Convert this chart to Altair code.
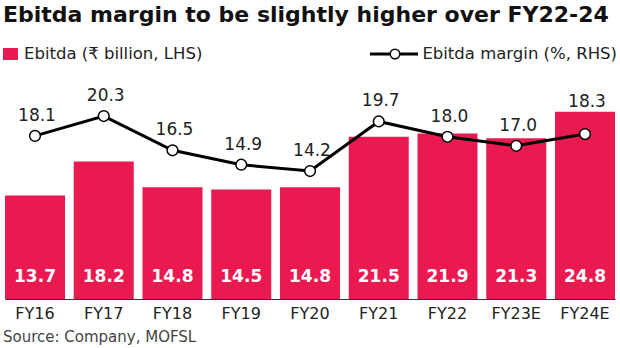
import altair as alt
import pandas as pd

categories = ["FY16", "FY17", "FY18", "FY19", "FY20", "FY21", "FY22", "FY23E", "FY24E"]
ebitda = [13.7, 18.2, 14.8, 14.5, 14.8, 21.5, 21.9, 21.3, 24.8]
margin = [18.1, 20.3, 16.5, 14.9, 14.2, 19.7, 18.0, 17.0, 18.3]

title_text = "Ebitda margin to be slightly higher over FY22-24"
bar_legend = "Ebitda (₹ billion, LHS)"
line_legend = "Ebitda margin (%, RHS)"
source_text = "Source: Company, MOFSL"

FONT = "DejaVu Sans"
RED = "#EA1A51"
W, H = 610, 219

df = pd.DataFrame({"cat": categories, "ebitda": ebitda, "margin": margin})
one = pd.DataFrame({"k": [0]})

xenc = alt.X("cat:N", sort=categories,
             scale=alt.Scale(paddingInner=0.127, paddingOuter=0),
             axis=alt.Axis(title=None, ticks=False, labelAngle=0, labelFont=FONT,
                           labelFontSize=16, labelColor="#222", labelPadding=6,
                           domainColor="#333", domainWidth=1.2))

base = alt.Chart(df)

bars = base.mark_bar(color=RED).encode(
    x=xenc,
    y=alt.Y("ebitda:Q", scale=alt.Scale(domain=[0, 29], nice=False), axis=None),
)
bar_text = base.mark_text(color="white", font=FONT, fontSize=17, fontWeight="bold",
                          baseline="middle", dy=-22).encode(
    x=alt.X("cat:N", sort=categories),
    y=alt.datum(0),
    text=alt.Text("ebitda:Q", format=".1f"),
)
bar_layer = alt.layer(bars, bar_text)

yline = alt.Y("margin:Q", scale=alt.Scale(domain=[0, 24.3], nice=False), axis=None)
line = base.mark_line(color="black", strokeWidth=3).encode(
    x=alt.X("cat:N", sort=categories), y=yline)
pts = base.mark_point(filled=True, fill="white", stroke="black", strokeWidth=1.5,
                      size=115, opacity=1).encode(
    x=alt.X("cat:N", sort=categories), y=yline)
mlabels = base.mark_text(color="#222", font=FONT, fontSize=17, baseline="middle",
                         dy=-20, dx=2).encode(
    x=alt.X("cat:N", sort=categories), y=yline,
    text=alt.Text("margin:Q", format=".1f"),
).transform_filter(alt.datum.cat != "FY24E")
mlabels2 = base.mark_text(color="#222", font=FONT, fontSize=17, baseline="middle",
                          dy=-32, dx=2).encode(
    x=alt.X("cat:N", sort=categories), y=yline,
    text=alt.Text("margin:Q", format=".1f"),
).transform_filter(alt.datum.cat == "FY24E")
line_layer = alt.layer(line, pts, mlabels, mlabels2)

deco = alt.Chart(one)
title = deco.mark_text(text=title_text, font=FONT, fontSize=22, fontWeight="bold",
                       align="left", baseline="middle", color="#111").encode(
    x=alt.value(-2), y=alt.value(-65))
leg_sq = deco.mark_rect(color=RED).encode(
    x=alt.value(-2), x2=alt.value(13), y=alt.value(-32), y2=alt.value(-20))
leg_t1 = deco.mark_text(text=bar_legend, font=FONT, fontSize=16.5, align="left",
                        baseline="middle", color="#222").encode(
    x=alt.value(19), y=alt.value(-26))
leg_line = deco.mark_rule(color="black", strokeWidth=3).encode(
    x=alt.value(365), x2=alt.value(413), y=alt.value(-26))
leg_pt = deco.mark_point(filled=True, fill="white", stroke="black", strokeWidth=1.5,
                         size=90, opacity=1).encode(x=alt.value(390), y=alt.value(-26))
leg_t2 = deco.mark_text(text=line_legend, font=FONT, fontSize=16.5, align="right",
                        baseline="middle", color="#222").encode(
    x=alt.value(612), y=alt.value(-26))
source = deco.mark_text(text=source_text, font=FONT, fontSize=15, align="left",
                        baseline="middle", color="#444").encode(
    x=alt.value(-2), y=alt.value(257))

chart = alt.layer(
    bar_layer, line_layer, title, leg_sq, leg_t1, leg_line, leg_pt, leg_t2, source
).resolve_scale(y="independent").properties(
    width=W, height=H,
    background="white",
    autosize=alt.AutoSizeParams(type="none"),
    padding={"left": 5, "top": 80, "right": 5, "bottom": 49},
).configure_view(strokeWidth=0, stroke="transparent")

chart.save("out.html", embed_options={"renderer": "svg", "actions": False})
